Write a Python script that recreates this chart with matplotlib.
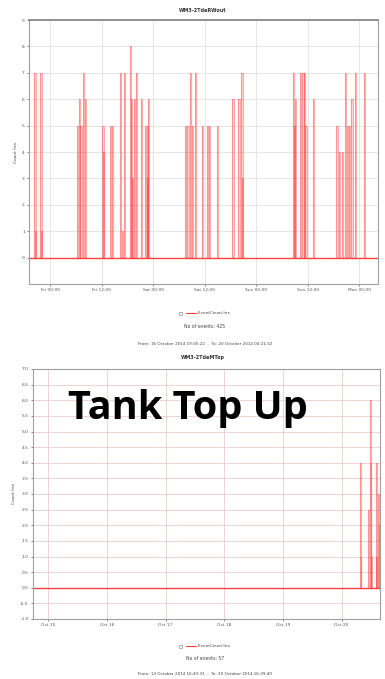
import matplotlib
matplotlib.use("Agg")
import matplotlib.pyplot as plt
import matplotlib.dates as mdates
import pandas as pd
import numpy as np

# ---------------- data ----------------
top_title = "WM3-2TdeRWout"
top_start = "2014-10-16 19:05:22"
top_end = "2014-10-20 04:21:32"
top_ref = "2014-10-17 00:00:00"
# event times (hours after Fri 17 Oct 00:00) and event counts
top_hours = [-3.5, -3.4, -2.1, -2.0, 6.4, 6.8, 7.2, 7.8, 8.2, 12.3, 12.4, 14.1, 14.5,
             16.4, 16.8, 17.3, 18.7, 19.0, 19.1, 19.7, 20.1, 21.2, 22.3, 22.6, 22.7, 22.9,
             31.6, 32.1, 32.7, 33.2, 33.8, 35.5, 36.7, 37.1, 39.0,
             42.6, 44.0, 44.7, 44.8,
             56.7, 57.0, 57.2, 58.3, 58.9, 59.3, 59.6, 61.3,
             66.8, 67.4, 68.0, 68.7, 69.3, 69.7, 70.3, 71.1, 73.2]
top_values = [7, 1, 7, 1, 5, 6, 5, 7, 6, 5, 4, 5, 5,
              7, 1, 7, 8, 6, 3, 6, 7, 6, 5, 5, 3, 6,
              5, 5, 7, 5, 7, 5, 5, 5, 5,
              6, 6, 7, 3,
              7, 5, 6, 7, 7, 7, 5, 6,
              5, 4, 4, 7, 5, 5, 6, 7, 7]
top_xticks = ["2014-10-17 00:00", "2014-10-17 12:00", "2014-10-18 00:00", "2014-10-18 12:00",
              "2014-10-19 00:00", "2014-10-19 12:00", "2014-10-20 00:00"]
top_events = "No of events: 425"
top_range = "From: 16 October 2014 19:05:22  -  To: 20 October 2014 04:21:32"

bot_title = "WM3-2TdeMTop"
bot_start = "2014-10-14 17:50:00"
bot_end = "2014-10-20 15:40:00"
bot_ref = "2014-10-20 00:00:00"
bot_hours = [7.8, 7.9, 11.0, 11.9, 12.0, 12.1, 14.2, 14.3, 15.2, 15.3]
bot_values = [4.0, 1.0, 2.5, 6.0, 4.0, 1.0, 4.0, 1.0, 3.0, 2.0]
bot_xticks = ["2014-10-15", "2014-10-16", "2014-10-17", "2014-10-18", "2014-10-19", "2014-10-20"]
bot_events = "No of events: 57"
bot_range = "From: 14 October 2014 16:40:31  -  To: 20 October 2014 16:39:40"

legend_label = "EventCount hrs"
overlay_text = "Tank Top Up"

# ---------------- drawing ----------------
W, H = 385, 679
fig = plt.figure(figsize=(W / 100, H / 100), dpi=100)
fig.patch.set_facecolor("white")

def spikes(ax, ref, hours, values, half_width_h, start, end):
    ref = pd.Timestamp(ref)
    times = [ref + pd.Timedelta(hours=h) for h in hours]
    hw = pd.Timedelta(hours=half_width_h)
    for t, v in zip(times, values):
        xs = mdates.date2num([t - hw, t - hw, t + hw, t + hw])
        ax.fill(xs, [0, v, v, 0], color="#ff4040", alpha=0.2, lw=0)
        ax.plot(xs, [0, v, v, 0], color="#ff3030", alpha=0.4, lw=0.8)
    ax.plot(mdates.date2num([pd.Timestamp(start), pd.Timestamp(end)]), [0, 0],
            color="#ff4040", lw=1.0)

def style(ax, start, end, gridc):
    ax.set_xlim(mdates.date2num(pd.Timestamp(start)), mdates.date2num(pd.Timestamp(end)))
    ax.grid(True, color=gridc, lw=0.6)
    ax.set_axisbelow(True)
    for s in ax.spines.values():
        s.set_color("#a0a0a0")
        s.set_linewidth(0.8)
    ax.tick_params(labelsize=3.2, length=1.5, width=0.5, colors="#555555", pad=1.5)

# top chart
ax1 = fig.add_axes([29 / W, 1 - 284 / H, 349 / W, 264 / H])
spikes(ax1, top_ref, top_hours, top_values, 0.14, top_start, top_end)
style(ax1, top_start, top_end, "#e2e2e2")
ax1.set_ylim(-1, 9)
ax1.set_yticks(range(0, 10))
ax1.set_yticklabels([str(i) for i in range(0, 10)])
ax1.set_xticks(mdates.date2num(pd.to_datetime(top_xticks)))
ax1.xaxis.set_major_formatter(mdates.DateFormatter("%a %H:%M"))
ax1.set_ylabel("Count hrs", fontsize=3.2, color="#444444", labelpad=3)
ax1.spines["top"].set_color("#808080")
ax1.spines["top"].set_linewidth(1.2)
fig.text(203 / W, 1 - 10 / H, top_title, ha="center", va="center", fontsize=3.5,
         fontweight="bold", color="#333333")

# bottom chart
ax2 = fig.add_axes([33 / W, 1 - 619 / H, 347 / W, 250 / H])
spikes(ax2, bot_ref, bot_hours, bot_values, 0.15, bot_start, bot_end)
style(ax2, bot_start, bot_end, "#f0cccc")
ax2.set_ylim(-1, 7)
yt = np.arange(-1.0, 7.01, 0.5)
ax2.set_yticks(yt)
ax2.set_yticklabels([f"{v:.1f}" for v in yt])
ax2.set_xticks(mdates.date2num(pd.to_datetime(bot_xticks)))
ax2.xaxis.set_major_formatter(mdates.DateFormatter("%b %d"))
ax2.set_ylabel("Count hrs", fontsize=3.2, color="#444444", labelpad=3)
fig.text(203 / W, 1 - 358 / H, bot_title, ha="center", va="center", fontsize=3.5,
         fontweight="bold", color="#333333")

# legends and footers
def footer(y_leg, y_ev, y_rng, events, rng):
    yl = 1 - y_leg / H
    fig.patches.append(plt.Rectangle((179 / W, yl - 1.5 / H), 3 / W, 3 / H,
                                     transform=fig.transFigure, facecolor="white",
                                     edgecolor="#777777", lw=0.4))
    fig.lines.append(plt.Line2D([186 / W, 196 / W], [yl, yl], transform=fig.transFigure,
                                color="#ff4040", lw=0.8))
    fig.text(198 / W, yl, legend_label, ha="left", va="center", fontsize=3.0, color="#444444")
    fig.text(205 / W, 1 - y_ev / H, events, ha="center", va="center", fontsize=3.3, color="#444444")
    fig.text(205 / W, 1 - y_rng / H, rng, ha="center", va="center", fontsize=3.0, color="#444444")

footer(313, 326, 344, top_events, top_range)
footer(646, 659, 674, bot_events, bot_range)

fig.text(188 / W, 1 - 409 / H, overlay_text, ha="center", va="center", fontsize=28.5,
         fontweight="bold", family="Open Sans", color="black")

fig.savefig("out.png", dpi=100, facecolor="white")
